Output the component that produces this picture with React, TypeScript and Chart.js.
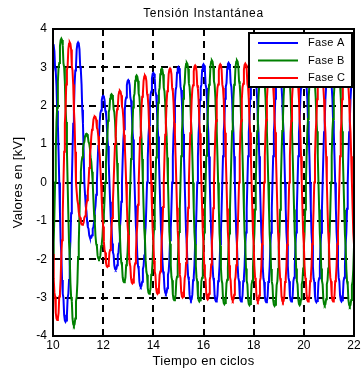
import React, { useEffect, useRef } from 'react';
import { Chart, registerables } from 'chart.js';

Chart.register(...registerables);

// ---------- data ----------
const TITLE = 'Tensión Instantánea';
const X_LABEL = 'Tiempo en ciclos';
const Y_LABEL = 'Valores en [kV]';
const X_MIN = 10;
const X_MAX = 22;
const X_STEP = 2;
const Y_MIN = -4;
const Y_MAX = 4;
const Y_STEP = 1;

const SERIES_NAMES = ['Fase A', 'Fase B', 'Fase C'];
const SERIES_COLORS = ['#0000ff', '#008000', '#ff0000'];

// samples per cycle and one cycle of the (normalized) waveform shape,
// starting at the positive crest, in 10 degree steps
const SAMPLES_PER_CYCLE = 36;
const WAVE_SHAPE = [
  1.0, 0.99, 0.95, 0.83, 0.8, 0.7, 0.52, 0.42, 0.22,
  0.0, -0.22, -0.42, -0.52, -0.7, -0.8, -0.83, -0.95, -0.99,
  -1.0, -0.99, -0.95, -0.83, -0.8, -0.7, -0.52, -0.42, -0.22,
  0.0, 0.22, 0.42, 0.52, 0.7, 0.8, 0.83, 0.95, 0.99,
];

// time (cycles) of the first positive crest of each phase, relative to X_MIN
const CREST_OFFSET_A = 0;
const CREST_OFFSET_B = 1 / 3;
const CREST_OFFSET_C = -1 / 3;

// positive crest values (kV) per cycle, and negative crest values half a cycle later
const POS_PEAKS_A = [3.6, 3.65, 2.26, 2.67, 2.86, 3.01, 3.08, 3.12, 3.12, 3.12, 3.1, 3.12, 3.12, 3.12];
const NEG_PEAKS_A = [-3.63, -1.45, -2.27, -2.72, -2.9, -3.07, -3.1, -3.1, -3.12, -3.1, -3.12, -3.1, -3.1];

const POS_PEAKS_B = [3.75, 1.27, 2.3, 2.79, 2.97, 3.12, 3.18, 3.18, 3.18, 3.2, 3.18, 3.18, 3.18];
const NEG_PEAKS_B = [-3.73, -2.0, -2.6, -2.9, -3.07, -3.1, -3.17, -3.2, -3.22, -3.2, -3.2, -3.22, -3.2];

const POS_PEAKS_C = [3.6, 3.65, 1.72, 2.39, 2.79, 2.97, 3.05, 3.08, 3.1, 3.12, 3.1, 3.1, 3.1, 3.1];
const NEG_PEAKS_C = [-3.58, -1.1, -2.2, -2.63, -2.9, -3.0, -3.05, -3.08, -3.1, -3.12, -3.1, -3.1, -3.1];

const FONT = "'Liberation Sans', Arial, Helvetica, sans-serif";

function clampIdx(k: number, n: number) {
  return Math.max(0, Math.min(n - 1, k));
}

function buildSeries(offset: number, pos: number[], neg: number[]) {
  const pts: { x: number; y: number }[] = [];
  const n = (X_MAX - X_MIN) * SAMPLES_PER_CYCLE;
  const shift = Math.round(offset * SAMPLES_PER_CYCLE);
  for (let j = 0; j <= n; j++) {
    const t = X_MIN + j / SAMPLES_PER_CYCLE;
    const idx = (((j - shift) % SAMPLES_PER_CYCLE) + SAMPLES_PER_CYCLE) % SAMPLES_PER_CYCLE;
    const v = WAVE_SHAPE[idx];
    let y: number;
    if (v >= 0) {
      const k = clampIdx(Math.round(t - X_MIN - offset), pos.length);
      y = v * pos[k];
    } else {
      const k = clampIdx(Math.round(t - X_MIN - offset - 0.5), neg.length);
      y = Math.abs(v) * neg[k];
    }
    pts.push({ x: t, y });
  }
  return pts;
}

const chartPlugin = {
  id: 'matlabStyle',
  beforeDatasetsDraw(chart: any) {
    const { ctx, chartArea: a, scales } = chart;
    ctx.save();
    ctx.strokeStyle = '#000';
    ctx.lineWidth = 2;
    ctx.setLineDash([7, 5]);
    scales.x.ticks.forEach((tk: any) => {
      const px = Math.round(scales.x.getPixelForValue(tk.value));
      ctx.beginPath();
      ctx.moveTo(px, a.bottom);
      ctx.lineTo(px, a.top);
      ctx.stroke();
    });
    scales.y.ticks.forEach((tk: any) => {
      const py = Math.round(scales.y.getPixelForValue(tk.value));
      ctx.beginPath();
      ctx.moveTo(a.left, py);
      ctx.lineTo(a.right, py);
      ctx.stroke();
    });
    ctx.restore();
  },
  afterDatasetsDraw(chart: any) {
    const { ctx, chartArea: a } = chart;
    ctx.save();
    ctx.strokeStyle = '#000';
    ctx.lineWidth = 2;
    ctx.setLineDash([]);
    ctx.strokeRect(a.left, a.top, a.right - a.left, a.bottom - a.top);

    // legend
    const lx = a.right - 105;
    const ly = a.top + 4;
    const lw = 103;
    const lh = 54;
    ctx.fillStyle = '#fff';
    ctx.fillRect(lx, ly, lw, lh);
    ctx.strokeRect(lx, ly, lw, lh);
    ctx.font = `11px ${FONT}`;
    ctx.textBaseline = 'middle';
    ctx.textAlign = 'left';
    (ctx as any).letterSpacing = '0.3px';
    SERIES_NAMES.forEach((name, i) => {
      const yy = ly + 10 + i * 17.5;
      ctx.strokeStyle = SERIES_COLORS[i];
      ctx.lineWidth = 2;
      ctx.beginPath();
      ctx.moveTo(lx + 9, yy);
      ctx.lineTo(lx + 49, yy);
      ctx.stroke();
      ctx.fillStyle = '#000';
      ctx.fillText(name, lx + 59, yy);
    });

    // title and axis labels
    ctx.fillStyle = '#000';
    ctx.textAlign = 'center';
    ctx.textBaseline = 'middle';
    ctx.font = `12px ${FONT}`;
    (ctx as any).letterSpacing = '0.7px';
    ctx.fillText(TITLE, (a.left + a.right) / 2, 14);
    ctx.font = `13px ${FONT}`;
    (ctx as any).letterSpacing = '0.3px';
    ctx.fillText(X_LABEL, (a.left + a.right) / 2, 361);
    ctx.save();
    ctx.translate(18, (a.top + a.bottom) / 2);
    ctx.rotate(-Math.PI / 2);
    ctx.fillText(Y_LABEL, 0, 0);
    ctx.restore();
    ctx.restore();
  },
};

export default function App() {
  const ref = useRef<HTMLCanvasElement>(null);
  useEffect(() => {
    if (!ref.current) return;
    const offsets = [CREST_OFFSET_A, CREST_OFFSET_B, CREST_OFFSET_C];
    const pos = [POS_PEAKS_A, POS_PEAKS_B, POS_PEAKS_C];
    const neg = [NEG_PEAKS_A, NEG_PEAKS_B, NEG_PEAKS_C];
    const chart = new Chart(ref.current, {
      type: 'line',
      data: {
        datasets: SERIES_NAMES.map((name, i) => ({
          label: name,
          data: buildSeries(offsets[i], pos[i], neg[i]),
          borderColor: SERIES_COLORS[i],
          backgroundColor: SERIES_COLORS[i],
          borderWidth: 2,
          pointRadius: 0,
          tension: 0,
          fill: false,
          order: 3 - i,
        })),
      },
      options: {
        animation: false,
        responsive: false,
        devicePixelRatio: 1,
        layout: { padding: { top: 29, right: 9, left: 0, bottom: 0 } },
        plugins: {
          legend: { display: false },
          title: { display: false },
          tooltip: { enabled: false },
        },
        scales: {
          x: {
            type: 'linear',
            min: X_MIN,
            max: X_MAX,
            ticks: { stepSize: X_STEP, color: '#000', font: { size: 12, family: FONT }, padding: 2, maxRotation: 0 },
            grid: { display: false, drawTicks: false },
            border: { display: false },
            afterFit: (s: any) => {
              s.height = 34;
            },
          },
          y: {
            type: 'linear',
            min: Y_MIN,
            max: Y_MAX,
            ticks: { stepSize: Y_STEP, color: '#000', font: { size: 12, family: FONT }, padding: 6 },
            grid: { display: false, drawTicks: false },
            border: { display: false },
            afterFit: (s: any) => {
              s.width = 53;
            },
          },
        },
      } as any,
      plugins: [chartPlugin],
    });
    return () => chart.destroy();
  }, []);
  return (
    <div style={{ position: 'fixed', left: 0, top: 0, width: 363, height: 370, background: '#fff' }}>
      <canvas ref={ref} width={363} height={370} style={{ width: 363, height: 370, display: 'block' }} />
    </div>
  );
}
